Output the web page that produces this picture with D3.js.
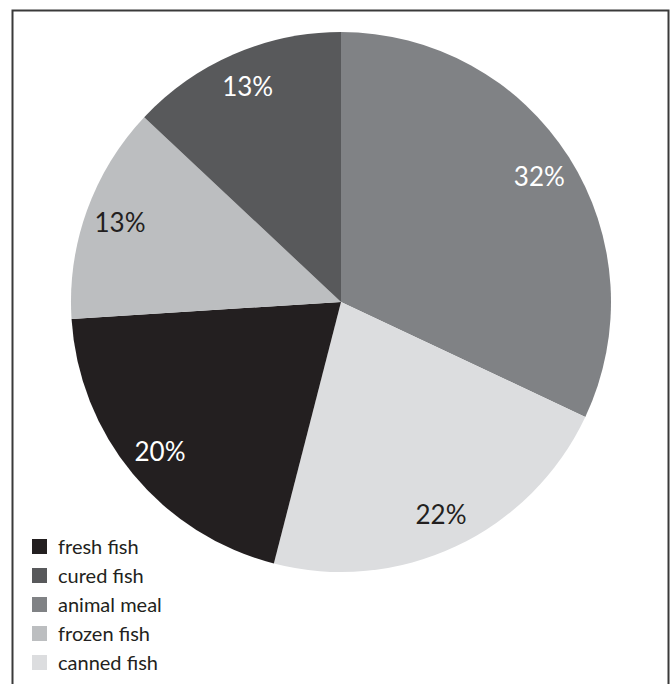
<!DOCTYPE html>
<html>
<head>
<meta charset="utf-8">
<script src="https://cdn.jsdelivr.net/npm/d3@7"></script>
<style>
  body { margin: 0; background: #fff; }
  svg { display: block; }
</style>
</head>
<body>
<svg id="chart" width="670" height="684"></svg>
<script>
// legend order
const categories = ['fresh fish', 'cured fish', 'animal meal', 'frozen fish', 'canned fish'];
const values = [20, 13, 32, 13, 22];
const colors = ['#231f20', '#58595b', '#808285', '#bcbec0', '#dcdddf'];
// clockwise order of the slices from 12 o'clock
const pieOrder = ['animal meal', 'canned fish', 'fresh fish', 'frozen fish', 'cured fish'];
// slices with white labels
const darkSlices = ['fresh fish', 'cured fish', 'animal meal'];

const svg = d3.select('#chart');
const cx = 341, cy = 302, radius = 270;
const font = 'Lato, "Open Sans", sans-serif';

// frame
svg.append('rect')
  .attr('x', 12.5).attr('y', 10.5)
  .attr('width', 656).attr('height', 690)
  .attr('fill', 'none')
  .attr('stroke', '#3a3a3a')
  .attr('stroke-width', 2);

const color = d3.scaleOrdinal().domain(categories).range(colors);

const data = pieOrder.map(c => ({ name: c, value: values[categories.indexOf(c)] }));

const pie = d3.pie().sort(null).value(d => d.value);
const arc = d3.arc().innerRadius(0).outerRadius(radius);
const labelArc = d3.arc().innerRadius(radius * 0.87).outerRadius(radius * 0.87);

const g = svg.append('g').attr('transform', `translate(${cx},${cy})`);
const arcs = pie(data);

g.selectAll('path')
  .data(arcs)
  .join('path')
  .attr('d', arc)
  .attr('fill', d => color(d.data.name));

g.selectAll('text')
  .data(arcs)
  .join('text')
  .attr('transform', d => `translate(${labelArc.centroid(d)})`)
  .attr('text-anchor', 'middle')
  .attr('dy', '0.36em')
  .attr('font-family', font)
  .attr('font-size', 26)
  .attr('fill', d => darkSlices.includes(d.data.name) ? '#fff' : '#231f20')
  .text(d => d.data.value + '%');

// legend
const legend = svg.append('g').attr('transform', 'translate(32,539)');
const row = legend.selectAll('g')
  .data(categories)
  .join('g')
  .attr('transform', (d, i) => `translate(0,${i * 29})`);

row.append('rect')
  .attr('width', 15).attr('height', 15)
  .attr('fill', d => color(d));

row.append('text')
  .attr('x', 26).attr('y', 8)
  .attr('dy', '0.36em')
  .attr('font-family', font)
  .attr('font-size', 20)
  .attr('fill', '#231f20')
  .text(d => d);
</script>
</body>
</html>
